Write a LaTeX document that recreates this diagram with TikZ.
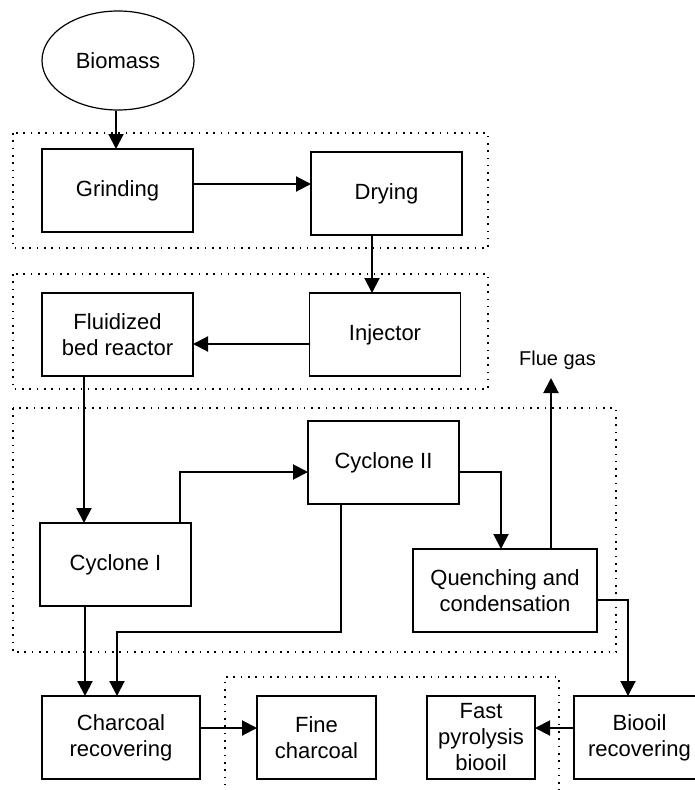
\documentclass[tikz,border=0pt]{standalone}
\usepackage{fontspec}
\setmainfont{Liberation Sans}
\usetikzlibrary{arrows.meta,shapes.geometric}
\tikzset{
  box/.style={draw, line width=1.2pt, rectangle, align=center, inner sep=2pt, outer sep=0pt,
    font=\fontsize{22}{26}\selectfont},
  stdbox/.style={box, minimum width=151pt, minimum height=83pt},
  arr/.style={line width=2pt, -{Triangle[length=15pt,width=15pt]}},
  grp/.style={line width=1.6pt, dash pattern=on 1.6pt off 5.7pt}
}
\begin{document}
\begin{tikzpicture}[x=1pt,y=-1pt]
\clip (0,0) rectangle (695,790);
\fill[white] (0,0) rectangle (695,790);

% group frames
\draw[grp] (13,133) rectangle (488,248);
\draw[grp] (13,274) rectangle (488,389);
\draw[grp] (13,408) rectangle (616,652);
\draw[grp] (225,800) -- (225,677) -- (559,677) -- (559,800);

% nodes
\node[ellipse, draw, line width=1.2pt, minimum width=152pt, minimum height=99pt, inner sep=0pt,
  font=\fontsize{22}{26}\selectfont] (bio) at (118,60.5) {Biomass};
\node[stdbox] (grind) at (117.5,190.5) {Grinding};
\node[stdbox] (dry) at (386.5,193.5) {Drying};
\node[stdbox] (inj) at (385,334.5) {Injector};
\node[stdbox] (fbr) at (117.5,334.5) {Fluidized\\bed reactor};
\node[stdbox] (cyc2) at (383.5,462.5) {Cyclone II};
\node[stdbox] (cyc1) at (115.5,564.5) {Cyclone I};
\node[box, minimum width=184pt, minimum height=83pt] (quench) at (505,590.5) {Quenching and\\condensation};
\node[box, minimum width=158pt, minimum height=83pt] (char) at (121,737.5) {Charcoal\\recovering};
\node[box, minimum width=119pt, minimum height=83pt] (fine) at (316.5,737.5) {Fine\\charcoal};
\node[box, minimum width=108pt, minimum height=83pt] (fast) at (481,737.5) {Fast\\pyrolysis\\biooil};
\node[box, minimum width=131pt, minimum height=83pt] (biooil) at (639.5,737.5) {Biooil\\recovering};
\node[font=\fontsize{20}{24}\selectfont, inner sep=0pt] (flue) at (557.5,360) {Flue gas};
\coordinate (flueTip) at (551,378);

% connectors
\draw[arr] ([xshift=-2pt]bio.south) -- ([xshift=-2pt]bio.south |- grind.north);
\draw[arr] ([yshift=6.5pt]grind.east) -- ([yshift=6.5pt]grind.east -| dry.west);
\draw[arr] ([xshift=-14.5pt]dry.south) -- ([xshift=-14.5pt]dry.south |- inj.north);
\draw[arr] ([yshift=-9.5pt]inj.west) -- ([yshift=-9.5pt]inj.west -| fbr.east);
\draw[arr] ([xshift=-33.5pt]fbr.south) -- ([xshift=-33.5pt]fbr.south |- cyc1.north);
\draw[arr] ([xshift=64.5pt]cyc1.north) |- ([yshift=-9.5pt]cyc2.west);
\draw[arr] ([yshift=-9.5pt]cyc2.east) -| ([xshift=-4pt]quench.north);
\draw[arr] ([xshift=46pt]quench.north) -- (flueTip);
\draw[arr] ([yshift=-9.5pt]quench.east) -| ([xshift=-11.5pt]biooil.north);
\draw[arr] ([yshift=9.5pt]biooil.west) -- ([yshift=9.5pt]biooil.west -| fast.east);
\draw[arr] ([yshift=9.5pt]char.east) -- ([yshift=9.5pt]char.east -| fine.west);
\draw[arr] ([xshift=-30.5pt]cyc1.south) -- ([xshift=-30.5pt]cyc1.south |- char.north);
\draw[arr] ([xshift=-42.5pt]cyc2.south) -- ++(0,128) -| ([xshift=-4pt]char.north);
\end{tikzpicture}
\end{document}
